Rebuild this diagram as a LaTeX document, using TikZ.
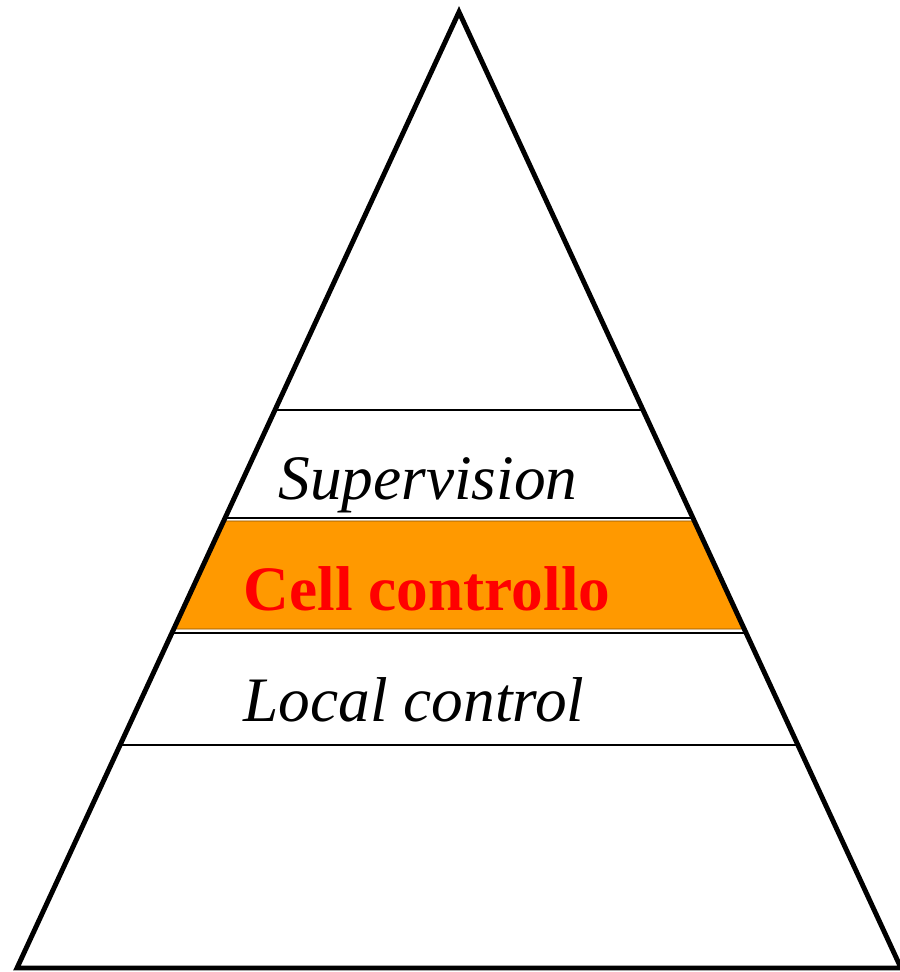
\documentclass[tikz,border=0pt]{standalone}
\usepackage{fontspec}
\setmainfont{Liberation Serif}
\usetikzlibrary{calc}
\definecolor{bandorange}{HTML}{FF9900}
\definecolor{bandedge}{HTML}{8A5200}
\definecolor{labelred}{HTML}{FF0000}
\tikzset{
  outline/.style={line width=3.7pt, line join=miter},
  divider/.style={line width=1.3pt},
  levellabel/.style={font=\fontsize{47.5}{50}\selectfont\itshape, anchor=base},
  corelabel/.style={font=\fontsize{47.5}{50}\selectfont\bfseries, text=labelred, anchor=base},
}
\begin{document}
\begin{tikzpicture}[x=0.75pt, y=-0.75pt]
  \useasboundingbox (0,0) rectangle (900,972);
  % pyramid corners
  \coordinate (A) at (459,12);
  \coordinate (BL) at (17,968);
  \coordinate (BR) at (901,968);
  % highlighted band
  \fill[bandorange, draw=bandedge, line width=0.7pt]
    ($(A)!0.5324!(BL)$) -- ($(A)!0.5324!(BR)$) -- ($(A)!0.6454!(BR)$) -- ($(A)!0.6454!(BL)$) -- cycle;
  % level dividers
  \draw[divider] ($(A)!0.4163!(BL)$) -- ($(A)!0.4163!(BR)$);
  \draw[divider] ($(A)!0.5293!(BL)$) -- ($(A)!0.5293!(BR)$);
  \draw[divider] ($(A)!0.6496!(BL)$) -- ($(A)!0.6496!(BR)$);
  \draw[divider] ($(A)!0.7667!(BL)$) -- ($(A)!0.7667!(BR)$);
  % outline
  \draw[outline] (A) -- (BR) -- (BL) -- cycle;
  % labels
  \node[levellabel] (sup) at (428,499) {Supervision};
  \node[corelabel] (cell) at (427,610) {Cell controllo};
  \node[levellabel] (loc) at (414,721) {Local control};
\end{tikzpicture}
\end{document}
